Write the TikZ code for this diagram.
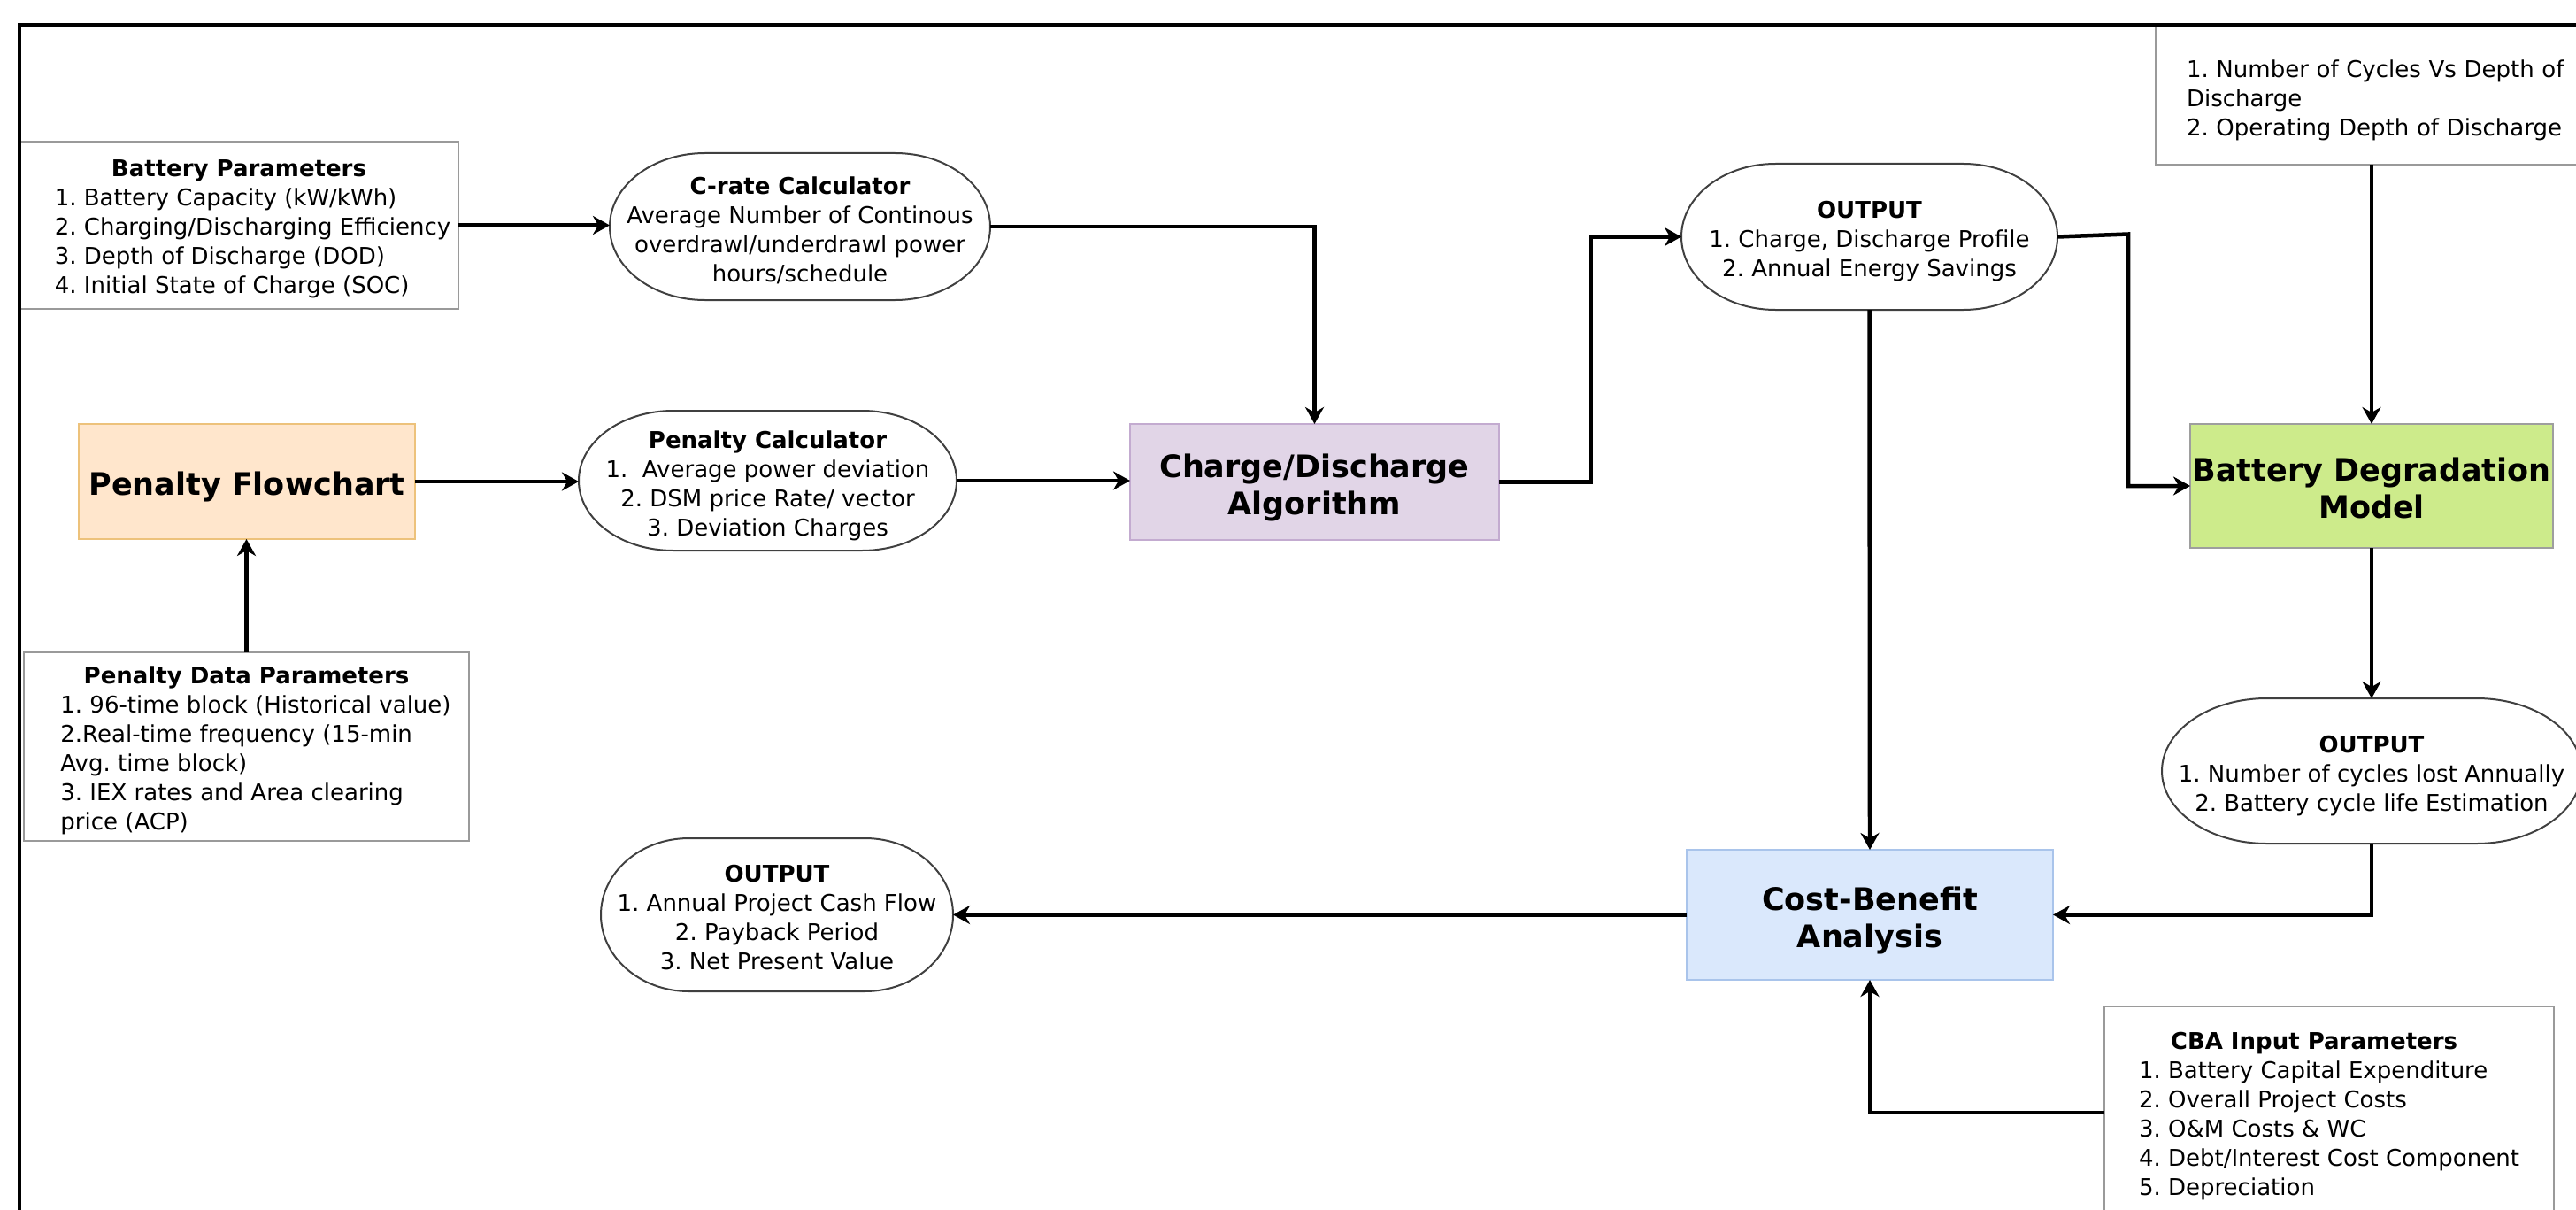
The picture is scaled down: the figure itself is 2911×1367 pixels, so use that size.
\documentclass[tikz,border=0pt]{standalone}
\usepackage{fontspec}
\setmainfont{DejaVu Sans}
\usetikzlibrary{arrows.meta,calc}
\definecolor{pffill}{HTML}{FFE6CC}
\definecolor{pfline}{HTML}{EDC27B}
\definecolor{cdfill}{HTML}{E1D5E7}
\definecolor{cdline}{HTML}{C3ABD0}
\definecolor{bdmfill}{HTML}{CDEB8B}
\definecolor{bdmline}{HTML}{9E9E9E}
\definecolor{cbfill}{HTML}{DAE8FC}
\definecolor{cbline}{HTML}{A9C4EB}
\definecolor{boxline}{HTML}{9A9A9A}
\definecolor{termcol}{HTML}{404040}
\frenchspacing
\newcommand\regfont{\fontsize{26}{33}\selectfont\frenchspacing}
\newcommand\bigfont{\fontsize{35}{42}\selectfont\bfseries\frenchspacing}
\newcommand\tpad{\rule{0pt}{32pt}}
\newcommand\bpad{\rule{0pt}{39pt}}
\newcommand\termborder[1]{%
  \draw[termline] let \p1=(#1.north east), \p2=(#1.south west),
    \n1={(\x1-\x2)/4}, \n2={(\y1-\y2)/2} in
    (\x2+\n1,\y1) -- (\x1-\n1,\y1)
    arc[start angle=90,end angle=-90,x radius=\n1,y radius=\n2]
    -- (\x2+\n1,\y2)
    arc[start angle=270,end angle=90,x radius=\n1,y radius=\n2] -- cycle;}
\begin{document}
\begin{tikzpicture}[x=1pt,y=-1pt,
  term/.style={rectangle,draw=none,outer sep=0pt,inner sep=0pt,align=center,font=\regfont},
  termline/.style={draw=termcol,line width=2pt},
  listbox/.style={rectangle,draw=boxline,line width=2pt,fill=white,align=center,outer sep=0pt,inner sep=2pt,font=\regfont},
  bigbox/.style={rectangle,line width=2pt,align=center,outer sep=0pt,inner sep=2pt,font=\bigfont},
  conn/.style={line width=4.5pt,-{Stealth[length=19pt,width=21pt,inset=6pt]}},
  frame/.style={line width=3.5pt,black}]
\useasboundingbox (0,0) rectangle (2911,1367);

% boxes
\node[listbox,minimum width=496pt,minimum height=189pt] (bp) at (270,254.5)
  {\tpad\textbf{Battery Parameters}\\\hspace*{31pt}{\begin{tabular}[t]{@{}l@{}}1. Battery Capacity (kW/kWh)\\2. Charging/Discharging Efficiency\\3. Depth of Discharge (DOD)\\4. Initial State of Charge (SOC)\end{tabular}}};

\node[term,minimum width=430pt,minimum height=166pt] (cr) at (904,256)
  {\rule{0pt}{28pt}\textbf{C-rate Calculator}\\Average Number of Continous\\overdrawl/underdrawl power\\hours/schedule};
\termborder{cr}

\node[bigbox,fill=pffill,draw=pfline,minimum width=380pt,minimum height=130pt] (pf) at (279,544) {\bpad Penalty Flowchart};

\node[term,minimum width=427pt,minimum height=158pt] (pc) at (867.5,543)
  {\tpad\textbf{Penalty Calculator}\\1.\ \ Average power deviation\\2. DSM price Rate/ vector\\3. Deviation Charges};
\termborder{pc}

\node[listbox,minimum width=503pt,minimum height=213pt] (pd) at (278.5,843.5)
  {\tpad\textbf{Penalty Data Parameters}\\\hspace*{21pt}{\begin{tabular}[t]{@{}l@{}}1. 96-time block (Historical value)\\2.Real-time frequency (15-min\\Avg. time block)\\3. IEX rates and Area clearing\\price (ACP)\end{tabular}}};

\node[bigbox,fill=cdfill,draw=cdline,minimum width=417pt,minimum height=131pt] (cd) at (1485.5,544.5) {\bpad Charge/Discharge\\Algorithm};

\node[term,minimum width=425pt,minimum height=165pt] (o1) at (2112.5,267.5)
  {\rule{0pt}{30pt}\textbf{OUTPUT}\\1. Charge, Discharge Profile\\2. Annual Energy Savings};
\termborder{o1}

\node[listbox,anchor=north west,align=left,text width=460pt,inner xsep=35pt,minimum height=158pt] (dod) at (2436,28)
  {\tpad 1. Number of Cycles Vs Depth of\\Discharge\\2. Operating Depth of Discharge};

\node[bigbox,fill=bdmfill,draw=bdmline,minimum width=410pt,minimum height=140pt] (bdm) at (2680,549) {\rule{0pt}{31pt}Battery Degradation\\Model};

\node[term,minimum width=474pt,minimum height=164pt] (o2) at (2680,871)
  {\rule{0pt}{30pt}\textbf{OUTPUT}\\1. Number of cycles lost Annually\\2. Battery cycle life Estimation};
\termborder{o2}

\node[bigbox,fill=cbfill,draw=cbline,minimum width=414pt,minimum height=147pt] (cb) at (2113,1033.5) {\bpad Cost-Benefit\\Analysis};

\node[term,minimum width=398pt,minimum height=173pt] (o3) at (878,1033.5)
  {\rule{0pt}{26pt}\textbf{OUTPUT}\\1. Annual Project Cash Flow\\2. Payback Period\\3. Net Present Value};
\termborder{o3}

\node[listbox,minimum width=508pt,minimum height=240pt] (cba) at (2632,1257)
  {\tpad\hspace*{-34pt}\textbf{CBA Input Parameters}\\{\begin{tabular}[t]{@{}l@{}}1. Battery Capital Expenditure\\2. Overall Project Costs\\3. O\&M Costs \& WC\\4. Debt/Interest Cost Component\\5. Depreciation\end{tabular}}};

% connectors
\draw[conn] (bp.east) -- (bp.east -| cr.west);
\draw[conn] (cr.east) -| (cd.north);
\draw[conn] (pf.east) -- (pf.east -| pc.west);
\draw[conn] (pd.north) -- (pd.north |- pf.south);
\draw[conn] (pc.east) -- (pc.east -| cd.west);
\draw[conn] (cd.east) -- ++(104,0) |- (o1.west);
\draw[conn] (o1.east) -- ++(80,-3) |- (bdm.west);
\draw[conn] (o1.south) -- (cb.north);
\draw[conn] (bdm.north |- dod.south) -- (bdm.north);
\draw[conn] (bdm.south) -- (o2.north);
\draw[conn] (o2.south) |- (cb.east);
\draw[conn] (cb.west) -- (o3.east);
\draw[conn] (cba.west) -| (cb.south);

% outer frame
\draw[frame] (22,1380) -- (22,28) -- (2925,28);
\end{tikzpicture}
\end{document}
